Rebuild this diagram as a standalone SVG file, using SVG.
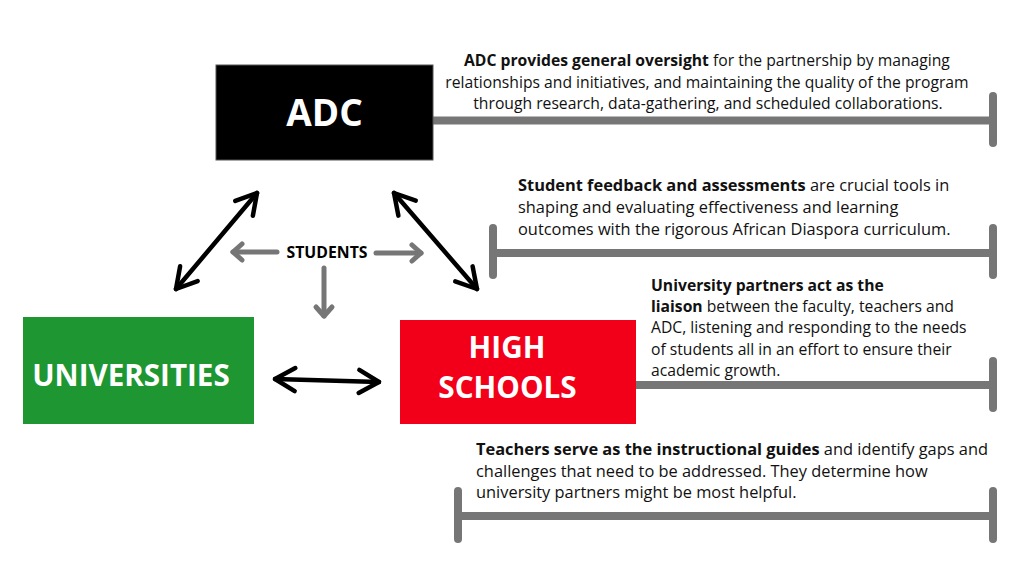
<svg xmlns="http://www.w3.org/2000/svg" width="1021" height="582" viewBox="0 0 1021 582">
<defs>
<style>
.box-label{font-family:"Open Sans","Liberation Sans",sans-serif;font-weight:700;fill:#fff;text-anchor:middle}
.body{font-family:"Open Sans","Liberation Sans",sans-serif;font-size:15.7px;fill:#111}
.big{font-size:16.4px}
.b{font-weight:700}
.bar{stroke:#767676;stroke-width:8;stroke-linecap:round;fill:none}
.blk{stroke:#000;stroke-width:4.5;stroke-linecap:round;fill:none}
.gry{stroke:#767676;stroke-width:5;stroke-linecap:round;fill:none}
.stu{font-family:"Open Sans","Liberation Sans",sans-serif;font-weight:700;font-size:15.8px;fill:#000;text-anchor:middle}
</style>
<marker id="chev" markerUnits="userSpaceOnUse" viewBox="-25 -15 30 30" refX="0" refY="0" markerWidth="30" markerHeight="30" orient="auto-start-reverse" overflow="visible">
<path d="M-20,-11.5 L0,0 L-20,11.5" fill="none" stroke="#000" stroke-width="4.5" stroke-linecap="round" stroke-linejoin="round"/>
</marker>
<marker id="gchev" markerUnits="userSpaceOnUse" viewBox="-15 -10 20 20" refX="0" refY="0" markerWidth="20" markerHeight="20" orient="auto" overflow="visible">
<path d="M-9,-8 L0,0 L-9,8" fill="none" stroke="#767676" stroke-width="5" stroke-linecap="round" stroke-linejoin="round"/>
</marker>
</defs>
<rect width="1021" height="582" fill="#fff"/>

<g id="connectors">
<line class="bar" x1="432" y1="120.5" x2="993" y2="120.5"/>
<line class="bar" x1="993" y1="96" x2="993" y2="143"/>
<line class="bar" x1="493" y1="253" x2="993" y2="253"/>
<line class="bar" x1="493" y1="228" x2="493" y2="275"/>
<line class="bar" x1="993" y1="228" x2="993" y2="275"/>
<line class="bar" x1="636" y1="385" x2="993" y2="385"/>
<line class="bar" x1="993" y1="361" x2="993" y2="408"/>
<line class="bar" x1="458" y1="516" x2="993" y2="516"/>
<line class="bar" x1="458" y1="491" x2="458" y2="539"/>
<line class="bar" x1="993" y1="491" x2="993" y2="539"/>

<line class="blk" x1="176" y1="289" x2="257" y2="193" marker-start="url(#chev)" marker-end="url(#chev)"/>
<line class="blk" x1="394" y1="193" x2="477" y2="289" marker-start="url(#chev)" marker-end="url(#chev)"/>
<line class="blk" x1="275" y1="379" x2="379" y2="382" marker-start="url(#chev)" marker-end="url(#chev)"/>

<line class="gry" x1="277" y1="252" x2="233" y2="252" marker-end="url(#gchev)"/>
<line class="gry" x1="376" y1="253" x2="421" y2="253" marker-end="url(#gchev)"/>
<line class="gry" x1="324" y1="268" x2="324" y2="316" marker-end="url(#gchev)"/>
<text class="stu" x="327" y="258">STUDENTS</text>
</g>

<g id="adc">
<rect x="216" y="65" width="217" height="95" fill="#000" stroke="#555" stroke-width="1"/>
<text class="box-label" x="324.5" y="126" font-size="37">ADC</text>
</g>

<g id="universities">
<rect x="23" y="317" width="231" height="107" fill="#1e9632"/>
<text class="box-label" x="131" y="386" font-size="29.6">UNIVERSITIES</text>
</g>

<g id="high-schools">
<rect x="400" y="320" width="236" height="104" fill="#f20019"/>
<text class="box-label" x="507" y="358" font-size="29.7">HIGH</text>
<text class="box-label" x="507.5" y="398" font-size="29.7">SCHOOLS</text>
</g>

<g id="note-adc">
<text class="body" text-anchor="middle">
<tspan x="709" y="66"><tspan class="b">ADC provides general oversight</tspan> for the partnership by managing</tspan>
<tspan x="709" y="88">relationships and initiatives, and maintaining the quality of the program</tspan>
<tspan x="708" y="109">through research, data-gathering, and scheduled collaborations.</tspan>
</text>
</g>

<g id="note-students">
<text class="body big">
<tspan x="518" y="191"><tspan class="b">Student feedback and assessments</tspan> are crucial tools in</tspan>
<tspan x="518" y="213">shaping and evaluating effectiveness and learning</tspan>
<tspan x="518" y="235">outcomes with the rigorous African Diaspora curriculum.</tspan>
</text>
</g>

<g id="note-universities">
<text class="body">
<tspan x="651" y="291" class="b">University partners act as the</tspan>
<tspan x="651" y="312"><tspan class="b">liaison</tspan> between the faculty, teachers and</tspan>
<tspan x="651" y="333">ADC, listening and responding to the needs</tspan>
<tspan x="651" y="355">of students all in an effort to ensure their</tspan>
<tspan x="651" y="376">academic growth.</tspan>
</text>
</g>

<g id="note-teachers">
<text class="body big">
<tspan x="476" y="455"><tspan class="b">Teachers serve as the instructional guides</tspan> and identify gaps and</tspan>
<tspan x="476" y="477">challenges that need to be addressed. They determine how</tspan>
<tspan x="476" y="498">university partners might be most helpful.</tspan>
</text>
</g>
</svg>
